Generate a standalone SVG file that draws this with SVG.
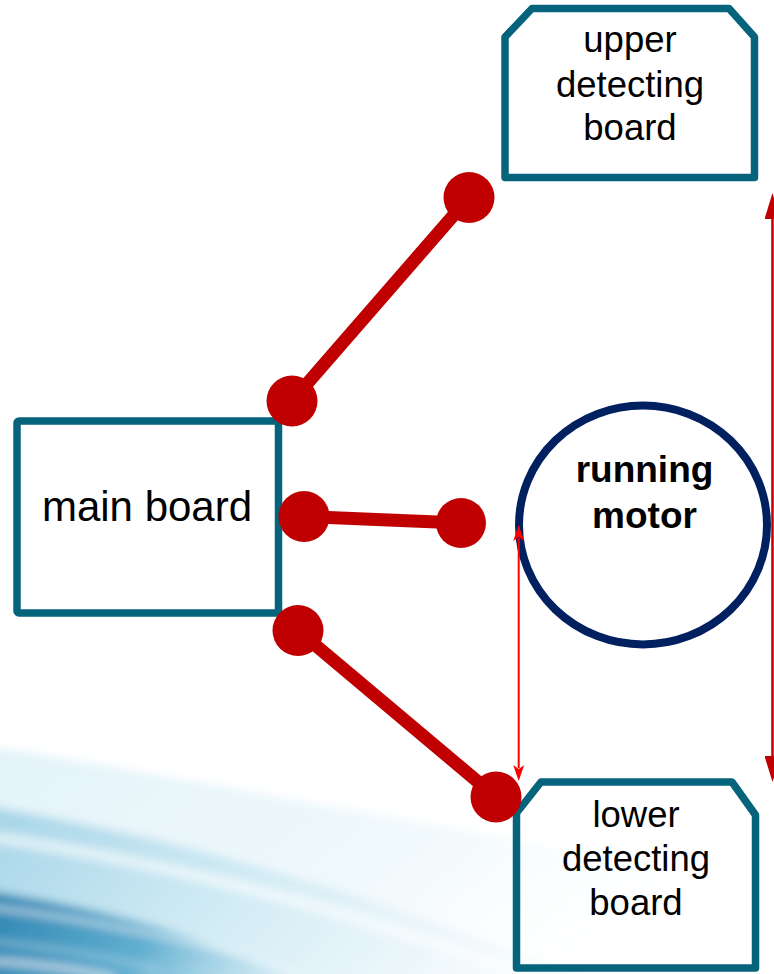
<svg xmlns="http://www.w3.org/2000/svg" width="774" height="974" viewBox="0 0 774 974">
  <defs>
    <style>
      .box { fill: none; stroke: #05637c; stroke-width: 7.5; stroke-linejoin: round; }
      .lbl { font-family: "Liberation Sans", Arial, sans-serif; fill: #000; text-anchor: middle; }
      .wire { stroke: #c00000; stroke-width: 13; stroke-linecap: round; }
      .dot { fill: #c00000; }
    </style>
    <linearGradient id="bgA" x1="0" y1="0" x2="1" y2="0.4">
      <stop offset="0" stop-color="#e2f3f8"/>
      <stop offset="0.6" stop-color="#f1f9fc"/>
      <stop offset="1" stop-color="#ffffff" stop-opacity="0"/>
    </linearGradient>
    <linearGradient id="bgB" x1="0" y1="0" x2="1" y2="0.3">
      <stop offset="0" stop-color="#a4d4e7"/>
      <stop offset="0.5" stop-color="#d3ecf5"/>
      <stop offset="1" stop-color="#eaf6fa" stop-opacity="0.3"/>
    </linearGradient>
    <linearGradient id="bgC" x1="0" y1="0" x2="1" y2="0.2">
      <stop offset="0" stop-color="#2a82b0"/>
      <stop offset="0.55" stop-color="#62afd0"/>
      <stop offset="1" stop-color="#b8deec" stop-opacity="0.3"/>
    </linearGradient>
    <filter id="soft" x="-5%" y="-20%" width="110%" height="140%">
      <feGaussianBlur stdDeviation="5"/>
    </filter>
    <marker id="bigHead" viewBox="0 -8 26 16" refX="2" refY="0" markerWidth="26" markerHeight="16" markerUnits="userSpaceOnUse" orient="auto-start-reverse">
      <path d="M0,-8 L26,0 L0,8 Z" fill="#c00000"/>
    </marker>
    <marker id="thinHead" viewBox="0 -6 16 12" refX="3" refY="0" markerWidth="16" markerHeight="12" markerUnits="userSpaceOnUse" orient="auto-start-reverse">
      <path d="M0,-5.5 L16,0 L0,5.5 L4,0 Z" fill="#ff0000"/>
    </marker>
  </defs>

  <rect x="0" y="0" width="774" height="974" fill="#ffffff"/>

  <g id="background" filter="url(#soft)">
    <path d="M-20,745 C200,780 420,825 800,890 L800,1000 L-20,1000 Z" fill="url(#bgA)"/>
    <path d="M-20,805 C160,835 360,885 640,1000 L-20,1000 Z" fill="url(#bgB)"/>
    <path d="M-20,835 C180,865 360,910 560,990" fill="none" stroke="#ffffff" stroke-width="12" stroke-opacity="0.6"/>
    <path d="M-20,890 C110,908 230,942 330,1000 L-20,1000 Z" fill="url(#bgC)"/>
    <path d="M-20,906 C100,920 210,946 300,972" fill="none" stroke="#e8f6fb" stroke-width="4" stroke-opacity="0.8"/>
    <path d="M-20,940 C60,948 110,957 160,970" fill="none" stroke="#d6eef7" stroke-width="3" stroke-opacity="0.6"/>
    <path d="M-20,960 C40,964 80,969 115,978" fill="none" stroke="#ffffff" stroke-width="4" stroke-opacity="0.85"/>
  </g>

  <g id="main-board">
    <rect class="box" x="17" y="421" width="261.5" height="192" rx="2"/>
    <text class="lbl" x="147" y="521" font-size="42">main board</text>
  </g>

  <g id="upper-detecting-board">
    <path class="box" d="M505,37 L532,8.5 L729,8.5 L754.5,37 L754.5,177.5 L505,177.5 Z" fill="#ffffff"/>
    <text class="lbl" font-size="36.5"><tspan x="630" y="52">upper</tspan><tspan x="630" y="97">detecting</tspan><tspan x="630" y="140">board</tspan></text>
  </g>

  <g id="running-motor">
    <ellipse cx="643" cy="525" rx="124" ry="119.5" fill="#ffffff" stroke="#002060" stroke-width="8"/>
    <text class="lbl" font-size="37" font-weight="bold"><tspan x="644.5" y="482">running</tspan><tspan x="644.5" y="528">motor</tspan></text>
  </g>

  <g id="lower-detecting-board">
    <path class="box" d="M516.5,813 L541,782 L732,782 L755.5,815 L755.5,968 L516.5,968 Z"/>
    <text class="lbl" font-size="36.5"><tspan x="636" y="827">lower</tspan><tspan x="636" y="871">detecting</tspan><tspan x="636" y="915">board</tspan></text>
  </g>

  <g id="connectors">
    <line class="wire" x1="292" y1="401" x2="469" y2="197.5"/>
    <circle class="dot" cx="292" cy="401" r="25.5"/>
    <circle class="dot" cx="469" cy="197.5" r="25.5"/>

    <line class="wire" x1="304" y1="516.5" x2="461" y2="523"/>
    <circle class="dot" cx="304" cy="516.5" r="25.5"/>
    <circle class="dot" cx="461" cy="523" r="25"/>

    <line class="wire" x1="298" y1="630.5" x2="496" y2="797"/>
    <circle class="dot" cx="298" cy="630.5" r="25.5"/>
    <circle class="dot" cx="496" cy="797" r="25.5"/>

    <line x1="772.5" y1="217" x2="772.5" y2="758" stroke="#c00000" stroke-width="2.5" marker-start="url(#bigHead)" marker-end="url(#bigHead)"/>
    <line x1="518.7" y1="538" x2="518.7" y2="768" stroke="#ff0000" stroke-width="2" marker-start="url(#thinHead)" marker-end="url(#thinHead)"/>
  </g>
</svg>
